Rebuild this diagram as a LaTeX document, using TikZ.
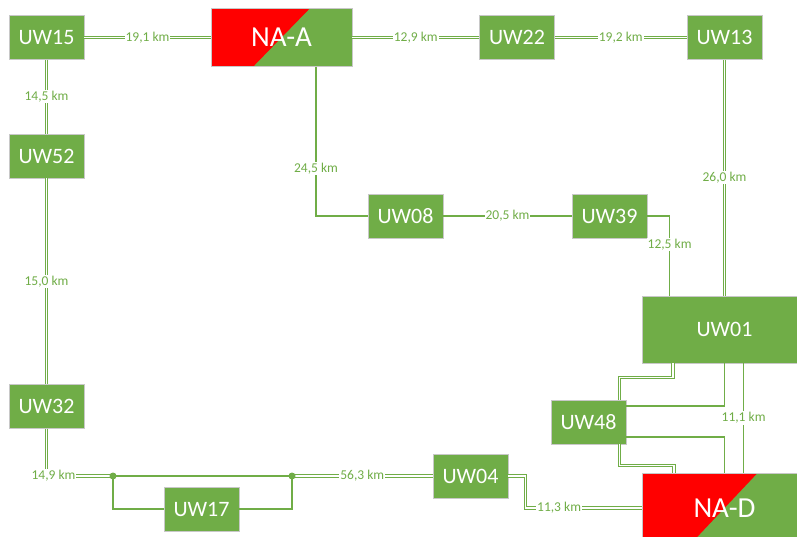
\documentclass[tikz,border=0pt]{standalone}
\usepackage{fontspec}
\setmainfont{Carlito}
\usepackage{tikz}
\usetikzlibrary{calc}
\definecolor{netgreen}{RGB}{112,173,71}
\definecolor{netred}{RGB}{255,0,0}
\definecolor{boxgray}{RGB}{200,200,200}
\tikzset{
  uwbox/.style={rectangle, draw=boxgray, fill=netgreen, text=white,
    minimum width=75pt, minimum height=44pt, inner sep=0pt,
    font=\fontsize{22}{24}\selectfont, line width=0.8pt},
  nabox/.style={uwbox, minimum width=141pt, minimum height=58pt,
    font=\fontsize{29}{32}\selectfont,
    path picture={\fill[netred] (path picture bounding box.north west)
      -- ($(path picture bounding box.north west)!0.7!(path picture bounding box.north east)$)
      -- ($(path picture bounding box.south west)!0.3!(path picture bounding box.south east)$)
      -- (path picture bounding box.south west) -- cycle;}},
  junc/.style={circle, fill=netgreen, minimum size=7pt, inner sep=0pt},
  lbl/.style={fill=white, text=netgreen, inner sep=1pt,
    font=\fontsize{13.5}{15}\selectfont},
  dbl/.style={draw=netgreen, double=white, line width=1pt, double distance=1.8pt},
  sgl/.style={draw=netgreen, line width=1.5pt}
}
\begin{document}
\begin{tikzpicture}[x=1pt, y=-1pt]
  \path[use as bounding box, clip] (0,0) rectangle (797,537);

  % Stations
  \node[nabox] (naa) at (281.5,37.5) {NA-A};
  \node[uwbox] (uw15) at (46.5,37.5) {UW15};
  \node[uwbox] (uw22) at (517,37.5) {UW22};
  \node[uwbox] (uw13) at (724.5,37.5) {UW13};
  \node[uwbox] (uw52) at (46.5,156) {UW52};
  \node[uwbox] (uw32) at (46.5,406.5) {UW32};
  \node[uwbox] (uw08) at (405.5,216) {UW08};
  \node[uwbox] (uw39) at (609.5,216) {UW39};
  \node[uwbox, minimum width=165pt, minimum height=67pt] (uw01) at (724.5,329.5) {UW01};
  \node[uwbox] (uw48) at (588.5,422) {UW48};
  \node[uwbox] (uw17) at (201.5,509) {UW17};
  \node[uwbox] (uw04) at (470.5,476) {UW04};
  \node[nabox, minimum width=165pt, minimum height=70pt] (nad) at (724.5,508) {NA-D};

  % Top row and left column
  \draw[dbl] (uw15) -- node[lbl]{19,1 km} (naa);
  \draw[dbl] (naa) -- node[lbl]{12,9 km} (uw22);
  \draw[dbl] (uw22) -- node[lbl]{19,2 km} (uw13);
  \draw[dbl] (uw15) -- node[lbl]{14,5 km} (uw52);
  \draw[dbl] (uw52) -- node[lbl]{15,0 km} (uw32);
  \draw[dbl] (uw13) -- node[lbl]{26,0 km} (uw01);

  % Middle line
  \draw[sgl] ([xshift=34.5pt]naa.south) |- node[lbl, pos=0.34]{24,5 km} (uw08.west);
  \draw[sgl] (uw08) -- node[lbl]{20,5 km} (uw39);
  \draw[sgl] (uw39.east) -| node[lbl, pos=0.68]{12,5 km} ([xshift=28pt]uw01.north west);

  % Bottom line with bypass round UW17
  \draw[dbl] (uw32.south) |- node[lbl, pos=0.5, xshift=7pt]{14,9 km} (113,476) coordinate (j1);
  \draw[sgl] (j1) -- (292,476) coordinate (j2);
  \draw[sgl] (j1) |- (uw17.west);
  \draw[sgl] (uw17.east) -| (j2);
  \draw[dbl] (j2) -- node[lbl]{56,3 km} (uw04);
  \draw[dbl] (uw04.east) -- ++(17,0) |- node[lbl, pos=0.645]{11,3 km} (nad.west);
  \node[junc] (dot1) at (j1) {};
  \node[junc] (dot2) at (j2) {};

  % UW01, UW48 and NA-D
  \draw[dbl] ([xshift=31pt]uw01.south west) -- ++(0,14) -| ([xshift=-7pt]uw48.north east);
  \draw[sgl] (uw01.south) |- ([yshift=16pt]uw48.east);
  \draw[sgl] ([yshift=-15pt]uw48.east) -| (nad.north);
  \draw[dbl] ([xshift=-7pt]uw48.south east) -- ++(0,21) -| ([xshift=32pt]nad.north west);
  \draw[sgl] ([xshift=102pt]uw01.south west) -- node[lbl]{11,1 km} ([xshift=102pt]nad.north west);
\end{tikzpicture}
\end{document}
